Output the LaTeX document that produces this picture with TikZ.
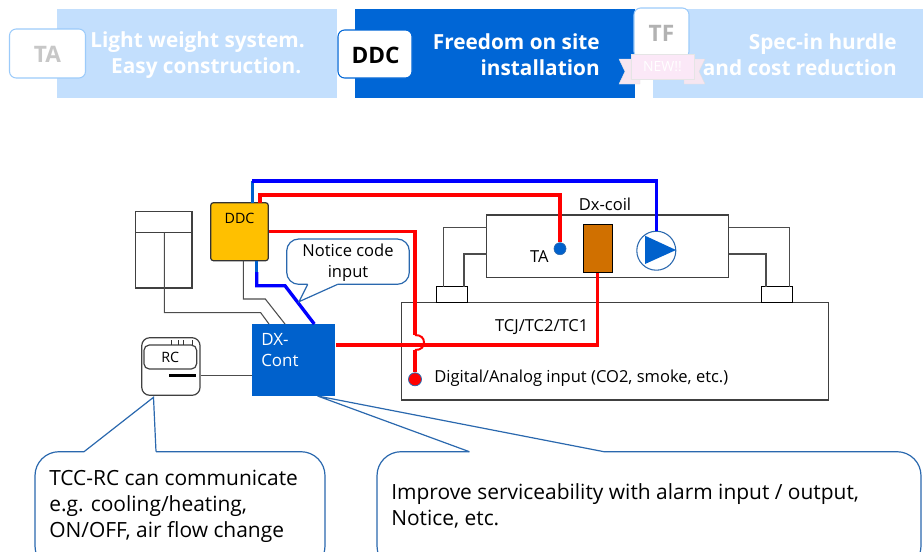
\documentclass[tikz,border=0pt]{standalone}
\usepackage{fontspec}
\setmainfont{Open Sans}
\definecolor{tabpale}{HTML}{C3DFFD}
\definecolor{tabblue}{HTML}{0066D6}
\definecolor{contblue}{HTML}{0061CC}
\definecolor{edgeblue}{HTML}{2A68AE}
\definecolor{badgeedge}{HTML}{9CCBFA}
\definecolor{ddcgold}{HTML}{FFC000}
\definecolor{coilbrown}{HTML}{D07000}
\definecolor{ribbon}{HTML}{FBE8F7}
\definecolor{ribbontail}{HTML}{F6E6F1}
\newcommand{\px}{0.75pt}
\tikzset{
	box/.style 2 args={inner sep=0, minimum width=#1*\px, minimum height=#2*\px},
	plain/.style={draw=black!75, line width=0.9pt},
	pipe/.style={draw=black!70, line width=0.8pt},
	redwire/.style={draw=red, line width=2.5pt},
	bluewire/.style={draw=blue, line width=2.5pt},
	callout/.style={draw=edgeblue, fill=white, line width=0.9pt},
	tabtext/.style={anchor=east, align=right, inner sep=0, text=white, font=\fontsize{15.6}{19.5}\selectfont\bfseries},
	badge/.style={draw=badgeedge, fill=white, rounded corners=5pt, line width=0.8pt},
	badgename/.style={font=\fontsize{17}{20}\selectfont\bfseries},
	small/.style={font=\fontsize{12.4}{15.5}\selectfont},
	tiny/.style={font=\fontsize{10.7}{12}\selectfont},
	big/.style={anchor=west, align=left, inner sep=0, font=\fontsize{15.7}{19.5}\selectfont}
}
\begin{document}
\begin{tikzpicture}[x=\px, y=-\px]
	\useasboundingbox (0, 0) rectangle (923, 551);
	\clip (0, 0) rectangle (923, 551);

	% tabs along the top
	\node[box={280}{89}, fill=tabpale] (tabta) at (197, 53.5) {};
	\node[box={280}{89}, fill=tabblue] (tabddc) at (495, 53.5) {};
	\node[box={270}{89}, fill=tabpale] (tabtf) at (788, 53.5) {};
	\node[tabtext] (texta) at (305, 55) {Light weight system.\\Easy construction.\,};
	\node[tabtext] (texddc) at (600, 55) {Freedom on site\\installation};
	\node[tabtext] (textf) at (897, 55) {Spec-in hurdle\\and cost reduction};

	\node[badge, box={76}{49}] (badgeta) at (47.5, 53.5) {};
	\node[badgename, text=black!22] (nameta) at (47.5, 54) {TA};
	\node[badge, draw=tabblue, box={74}{48}] (badgeddc) at (375, 54) {};
	\node[badgename] (nameddc) at (375.5, 55) {DDC};
	\node[badge, box={55}{50}] (badgetf) at (661.5, 33) {};
	\node[badgename, text=black!30] (nametf) at (661.5, 33) {TF};

	% the ribbon
	\fill[ribbontail, draw=black!12, line width=0.3pt] (619, 59) -- (640, 59) -- (640, 84) -- (619, 84) -- (625, 71.5) -- cycle;
	\fill[ribbontail, draw=black!12, line width=0.3pt] (705, 59) -- (684, 59) -- (684, 84) -- (705, 84) -- (699, 71.5) -- cycle;
	\node[box={63}{25}, fill=ribbon, draw=black!10, line width=0.3pt, text=white, font=\fontsize{10.5}{12}\selectfont] (newtag) at (662.5, 66.5) {NEW!!};

	% left hand panel and the remote
	\node[plain, box={56.3}{76.3}] (panel) at (163.9, 249.9) {};
	\draw[plain] (panel.west |- 0, 232.7) -- (panel.east |- 0, 232.7);
	\node[plain, rounded corners=6pt, box={58.3}{57.6}] (remote) at (170.9, 366.5) {};
	\node[plain, rounded corners=4pt, box={52.7}{24}] (rcpanel) at (170.3, 357) {};
	\node[tiny] (rclabel) at (170.3, 357.5) {RC};
	\foreach \tickx in {171, 178, 183, 192}
		\draw[black!80, line width=0.5pt] (\tickx, 340) -- (\tickx, 345);
	\draw[black, line width=2.2pt] (169.3, 375.7) -- (196, 375.7);

	% the outdoor unit with its pipes
	\node[plain, box={427}{97.7}] (unit) at (615.2, 351.2) {};
	\node[plain, box={242}{62.3}] (dxcoil) at (607.7, 246.2) {};
	\node[plain, box={31.4}{15.6}, draw=black] (valvel) at (452, 294.5) {};
	\node[plain, box={31}{15.6}, draw=black] (valver) at (776.8, 294.5) {};
	\draw[pipe] (486.7, 227.3) -| (443.3, 286.7);
	\draw[pipe] (486.7, 254) -| (464, 286.7);
	\draw[pipe] (728.7, 227.3) -| (789.3, 286.7);
	\draw[pipe] (728.7, 254) -| (766, 286.7);

	\node[plain, rounded corners=2pt, box={57.6}{58}, fill=ddcgold, draw=black!80] (ddc) at (239.5, 231.7) {};
	\node[tiny] (ddclabel) at (239.5, 218) {DDC};
	\node[box={82.4}{71.7}, fill=contblue] (dxcont) at (293.5, 359.9) {};
	\node[anchor=west, align=left, inner sep=0, text=white, font=\fontsize{12.7}{15.5}\selectfont] (dxlabel) at (261, 350) {DX-\\Cont};

	\node[plain, box={29}{48.4}, fill=coilbrown, draw=black] (coil) at (597.8, 248.5) {};
	\node[circle, box={12}{12}, fill=contblue, draw=edgeblue, line width=0.5pt] (tasensor) at (560, 248.7) {};
	\node[circle, box={39}{39}, fill=white, draw=edgeblue, line width=0.8pt] (pump) at (656.3, 250.7) {};
	\fill[contblue] (645, 235.7) -- (676, 250) -- (645, 264) -- cycle;
	\node[circle, box={11}{13}, fill=red, draw=edgeblue, line width=0.6pt] (diginput) at (415, 379.3) {};

	% thin signal lines
	\coordinate (ddcfoot) at (243.3, 260.7);
	\coordinate (contbus) at (285, 324);
	\coordinate (contpanel) at (269, 324);
	\coordinate (panelfoot) at (164.3, 232.7);
	\draw[pipe] (ddcfoot) -- (243.3, 299) -- (265.3, 299) -- (contbus);
	\draw[pipe] (panelfoot) -- (164.3, 312.7) -- (260.7, 312.7) -- (contpanel);
	\draw[pipe] (remote.east |- 0, 375.3) -- (dxcont.west |- 0, 375.3);

	% blue wires
	\coordinate (ddctop) at (252.3, 202.7);
	\coordinate (bluehigh) at (252.3, 181);
	\coordinate (ddcbase) at (256.7, 260.7);
	\coordinate (contentry) at (314.3, 324);
	\draw[draw=contblue, line width=2.5pt] (ddctop) -- (bluehigh);
	\draw[bluewire, line join=miter] (bluehigh) -| (pump.north);
	\draw[draw=contblue, line width=2.5pt] (ddcbase) -- (256.7, 272);
	\draw[bluewire] (256.7, 272) -- (256.7, 285.7) -- (285, 285.7) -- (contentry);

	% red wires
	\coordinate (ddcred) at (260, 202.7);
	\coordinate (hoptop) at (415, 335);
	\coordinate (hopfoot) at (415, 350);
	\draw[redwire] (ddcred) -- (260, 195) -| (tasensor.north);
	\draw[redwire] (ddc.east) -| (hoptop);
	\draw[draw=red, line width=1.5pt] (hoptop) .. controls (421, 335) and (424, 338) .. (424, 342.5) .. controls (424, 347) and (421, 350) .. (hopfoot);
	\draw[redwire] (hopfoot) -- (diginput.north);
	\draw[redwire] (336, 345) -| (coil.south);

	% callouts
	\draw[callout, rounded corners=9pt] (337.7, 284.3) -- (409.3, 284.3) -- (409.3, 239) -- (286.7, 239) -- (286.7, 284.3) -- (307.7, 284.3);
	\draw[callout] (307.7, 284.3) -- (299, 301.7) -- (337.7, 284.3);
	\node[align=center, inner sep=0, small] (noticelabel) at (348, 263) {Notice code\\input};
	\draw[callout, rounded corners=18pt] (156, 451.7) -- (325, 451.7) -- (325, 570) -- (35, 570) -- (35, 451.7) -- (84, 451.7);
	\draw[callout] (84, 451.7) -- (153.5, 397.3) -- (156, 451.7);
	\draw[callout, rounded corners=18pt] (604, 451.7) -- (921, 451.7) -- (921, 570) -- (377, 570) -- (377, 451.7) -- (469.4, 451.7);
	\draw[callout] (469.4, 451.7) -- (317.6, 396) -- (604, 451.7);
	\node[big] (rctext) at (49, 506.5) {TCC-RC can communicate\\e.g. cooling/heating,\\ON/OFF, air flow change};
	\node[big] (alarmtext) at (391, 506) {Improve serviceability with alarm input / output,\\Notice, etc.};

	% remaining labels
	\node[small] (coillabel) at (605, 204.5) {Dx-coil};
	\node[small] (talabel) at (539.3, 256.5) {TA};
	\node[small] (tcjlabel) at (541.7, 327) {TCJ/TC2/TC1};
	\node[small, anchor=west, inner sep=0] (diglabel) at (434, 378.5) {Digital/Analog input (CO2, smoke, etc.)};
\end{tikzpicture}
\end{document}
